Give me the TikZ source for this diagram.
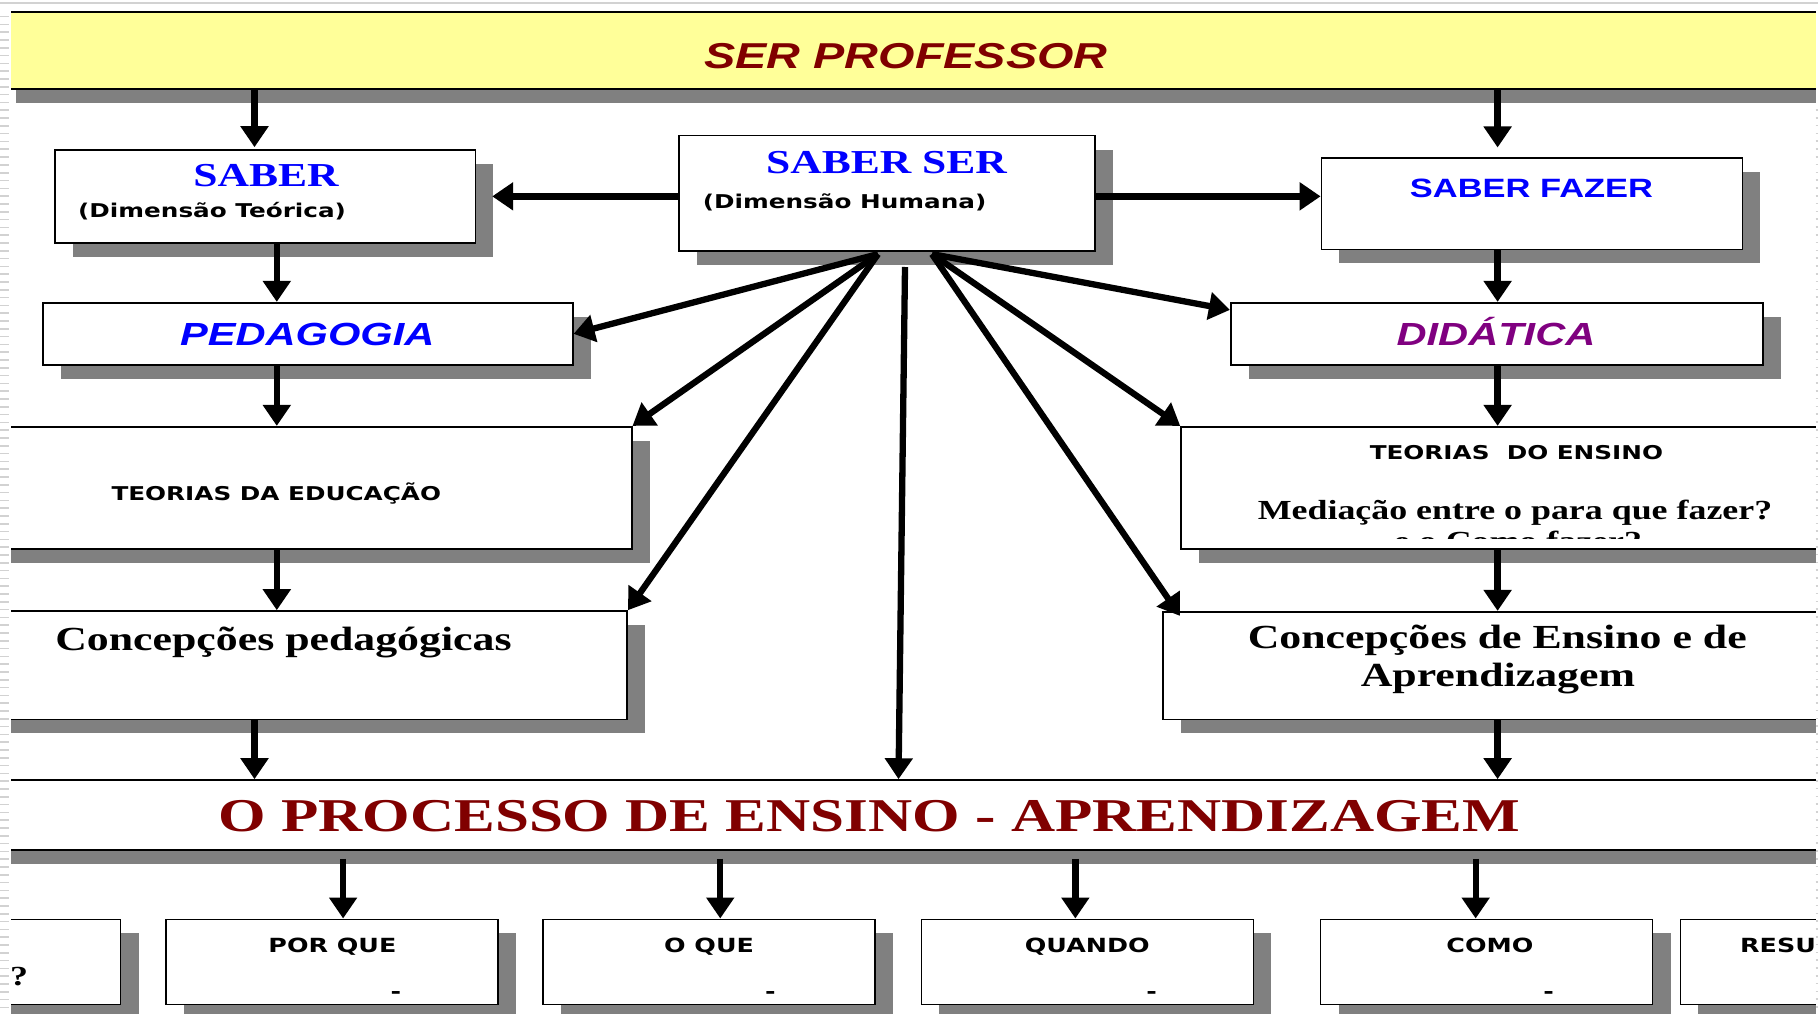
\documentclass[tikz,border=0pt]{standalone}
\usepackage{fontspec}
\setmainfont{Liberation Serif}[FakeStretch=1.3]
\setsansfont{Liberation Sans}[FakeStretch=1.3]
\newfontfamily\labelfont{DejaVu Sans}[FakeStretch=1.3]
\usetikzlibrary{arrows.meta}
\usetikzlibrary{shadows}

\definecolor{profred}{HTML}{800000}
\definecolor{saberblue}{HTML}{0000FF}
\definecolor{didpurple}{HTML}{800080}
\definecolor{banneryellow}{HTML}{FFFF99}
\definecolor{shadowgray}{HTML}{808080}
\definecolor{margingray}{HTML}{D2D2D2}

\tikzset{
  box/.style={draw=black, line width=1.6pt, fill=white, inner sep=0pt,
    drop shadow={shadow xshift=18pt, shadow yshift=-14pt, fill=shadowgray, draw=none, opacity=1}},
  arr/.style={line width=6.3pt, -{Triangle[length=21pt, width=27pt]}},
  titletext/.style={font=\sffamily\bfseries\itshape\fontsize{36}{43}\selectfont, text=profred, inner sep=0pt},
  bluehead/.style={font=\bfseries\fontsize{33.5}{40}\selectfont, text=saberblue, inner sep=0pt},
  sanshead/.style={font=\sffamily\bfseries\fontsize{26.5}{32}\selectfont, text=saberblue, inner sep=0pt},
  areatext/.style={font=\sffamily\bfseries\itshape\fontsize{32}{38}\selectfont, inner sep=0pt},
  dimtext/.style={font=\labelfont\bfseries\fontsize{19}{23}\selectfont, inner sep=0pt},
  concept/.style={font=\bfseries\fontsize{33.7}{40}\selectfont, inner sep=0pt},
  medtext/.style={font=\bfseries\fontsize{27.6}{33}\selectfont, inner sep=0pt},
  processtext/.style={font=\bfseries\fontsize{47}{56}\selectfont, text=profred, inner sep=0pt},
  qtext/.style={font=\labelfont\bfseries\fontsize{19.5}{23}\selectfont, inner sep=0pt},
  margindash/.style={margingray, line width=1.6pt}
}

\begin{document}
\begin{tikzpicture}[x=1pt, y=1pt]
\useasboundingbox (0,0) rectangle (1818,-1014);
\clip (0,0) rectangle (1818,-1014);
\fill[white] (0,0) rectangle (1818,-1014);
% title banner
\node[box, fill=banneryellow, line width=2pt, minimum width=1852pt, minimum height=77.6pt] (banner) at (924,-50.5) {};
\node[titletext, anchor=base] (tProf) at (906,-68.3) {SER PROFESSOR};
%
% the three kinds of knowing
\node[box, minimum width=420.4pt, minimum height=92.7pt] (saber) at (265.2,-196.35) {};
\node[box, minimum width=416pt, minimum height=115pt] (saberser) at (887,-193.2) {};
\node[box, minimum width=421pt, minimum height=91pt] (sabfazer) at (1531.9,-203.8) {};
\node[bluehead, anchor=base] (tSaber) at (266,-186.7) {SABER};
\node[dimtext, anchor=base west] (tDimTeo) at (78,-217.3) {(Dimensão Teórica)};
\node[bluehead, anchor=base] (tSaberSer) at (886.6,-173.3) {SABER SER};
\node[dimtext, anchor=base west] (tDimHum) at (702.7,-208.3) {(Dimensão Humana)};
\node[sanshead, anchor=base] (tSabFazer) at (1531.5,-197.3) {SABER FAZER};
%
% pedagogia and didatica
\node[box, minimum width=529.5pt, minimum height=62.3pt] (pedagogia) at (308,-333.85) {};
\node[box, minimum width=532.2pt, minimum height=62.3pt] (didatica) at (1496.8,-333.85) {};
\node[areatext, text=saberblue, anchor=base] (tPedag) at (307.3,-345) {PEDAGOGIA};
\node[areatext, text=didpurple, anchor=base] (tDidat) at (1496,-345) {DIDÁTICA};
%
% theories
\node[box, minimum width=651.7pt, minimum height=122.3pt] (teoedu) at (305.85,-487.85) {};
\node[box, minimum width=679pt, minimum height=122.3pt] (teoens) at (1520.5,-487.85) {};
\node[dimtext, anchor=base] (tTeoEdu) at (276.3,-500) {TEORIAS DA EDUCAÇÃO};
\node[dimtext, anchor=base] (tTeoEns) at (1516.4,-459.3) {TEORIAS\ \ DO ENSINO};
\node[medtext, anchor=base] (tMedia) at (1515,-519.3) {Mediação entre o para que fazer?};
\begin{scope}
\clip (teoens.north west) rectangle (1818,-538);
\node[medtext, anchor=base] (tComoFazer) at (1518,-550.7) {e o Como fazer?};
\end{scope}
%
% conceptions
\node[box, minimum width=647.2pt, minimum height=108.3pt] (concped) at (303.6,-665.15) {};
\node[box, minimum width=697.2pt, minimum height=107.6pt] (concens) at (1511.4,-665.5) {};
\node[concept, anchor=base] (tConcPed) at (283.5,-650) {Concepções pedagógicas};
\node[concept, anchor=base] (tConcEnsA) at (1497.3,-648.3) {Concepções de Ensino e de};
\node[concept, anchor=base] (tConcEnsB) at (1497.9,-686.7) {Aprendizagem};
%
% teaching-learning process
\node[box, minimum width=1880pt, minimum height=70pt] (processo) at (920,-815) {};
\node[processtext, anchor=base] (tProc) at (869.4,-831) {O PROCESSO DE ENSINO - APRENDIZAGEM};
%
% question boxes
\foreach \name/\cx in {qleft/-45.5, porque/332.1, oque/709.25, quando/1087.35, como/1486.65, resu/1846.4}
  \node[box, minimum width=332pt, minimum height=85pt] (\name) at (\cx,-961.8) {};
\node[medtext, anchor=base] (tQm) at (19,-985) {?};
\node[qtext, anchor=base] (tPorQue) at (332.4,-952.3) {POR QUE};
\node[qtext, anchor=base] (tOQue) at (709,-952.3) {O QUE};
\node[qtext, anchor=base] (tQuando) at (1087.3,-952.3) {QUANDO};
\node[qtext, anchor=base] (tComo) at (1489.9,-952.3) {COMO};
\node[qtext, anchor=base west] (tResu) at (1740,-952.3) {RESU};
\foreach \dname/\dx in {dPorQue/396, dOQue/770.4, dQuando/1151.7, dComo/1548.7}
  \node[qtext, anchor=base] (\dname) at (\dx,-998.3) {-};
%
% column arrows
\coordinate (lcolA) at (254.5,0);
\coordinate (lcolB) at (276.8,0);
\coordinate (rcol) at (1497.6,0);
\draw[arr, shorten >=2pt] (lcolA |- banner.south) -- (lcolA |- saber.north);
\draw[arr, shorten >=10pt] (rcol |- banner.south) -- (rcol |- sabfazer.north);
\draw[arr] (saberser.west |- saber.east) -- ([xshift=16pt]saber.east);
\draw[arr] (saberser.east |- saber.east) -- (sabfazer.west |- saber.east);
\draw[arr] (lcolB |- saber.south) -- (lcolB |- pedagogia.north);
\draw[arr] (lcolB |- pedagogia.south) -- (lcolB |- teoedu.north);
\draw[arr] (lcolB |- teoedu.south) -- (lcolB |- concped.north);
\draw[arr] (lcolA |- concped.south) -- (lcolA |- processo.north);
\draw[arr] (rcol |- sabfazer.south) -- (rcol |- didatica.north);
\draw[arr] (rcol |- didatica.south) -- (rcol |- teoens.north);
\draw[arr] (rcol |- teoens.south) -- (rcol |- concens.north);
\draw[arr] (rcol |- concens.south) -- (rcol |- processo.north);
%
% fan out of saber ser
\coordinate (fanL) at ([xshift=-9pt, yshift=-2.6pt]saberser.south);
\coordinate (fanR) at ([xshift=45pt, yshift=-2.6pt]saberser.south);
\coordinate (fanC) at ([xshift=18pt, yshift=-15.5pt]saberser.south);
\draw[arr] (fanL) -- (pedagogia.east);
\draw[arr] (fanL) -- (teoedu.north east);
\draw[arr] (fanL) -- (concped.north east);
\draw[arr] (fanR) -- ([yshift=-8pt]didatica.north west);
\draw[arr] (fanR) -- (teoens.north west);
\draw[arr] (fanR) -- ([xshift=18pt, yshift=-5pt]concens.north west);
\draw[arr] (fanC) -- ([xshift=-6.5pt]fanC |- processo.north);
%
% process to questions
\foreach \b/\dx in {porque/11, oque/11, quando/-12, como/-11}
  \draw[arr, shorten <=8pt] ([xshift=\dx pt]\b.north |- processo.south) -- ([xshift=\dx pt]\b.north);
%
% slide margins
\fill[white] (0,0) rectangle (11,-1014);
\fill[white] (1815.5,0) rectangle (1818,-1014);
\fill[white] (0,0) rectangle (1818,-10);
\draw[margingray, line width=2.5pt] (0,-3) -- (1818,-3);
\foreach \k in {0,...,127}
  \draw[margindash] (0,-16.7-7.8*\k) -- (9,-16.7-7.8*\k);
\foreach \k in {0,...,115}
  \draw[margindash] (1815.5,-110-7.8*\k) -- (1818,-110-7.8*\k);
\end{tikzpicture}
\end{document}
